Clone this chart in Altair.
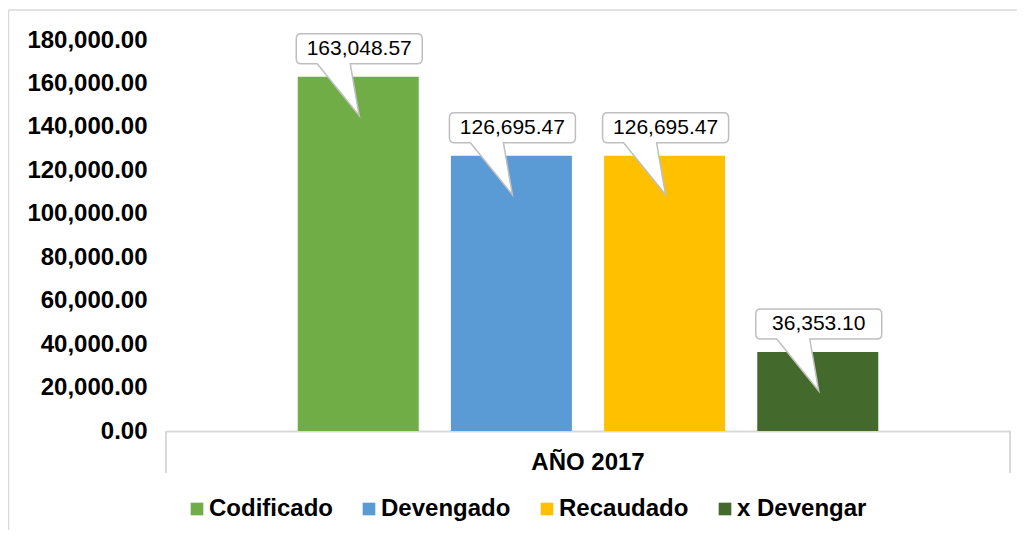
import altair as alt
import pandas as pd

# ---- data ----
categoria = ["AÑO 2017"]
series = ["Codificado", "Devengado", "Recaudado", "x Devengar"]
valores = [163048.57, 126695.47, 126695.47, 36353.10]
colores = ["#70AD47", "#5B9BD5", "#FFC000", "#44692C"]
y_ticks = [0, 20000, 40000, 60000, 80000, 100000, 120000, 140000, 160000, 180000]

df = pd.DataFrame({"anio": categoria * len(series), "serie": series, "valor": valores})

FONT = "Liberation Sans"
PW, PH = 844, 391
GRAY = "#D9D9D9"

# callout shape (rounded box + pointer), pixel units around bar centre/top
CALLOUT = ("M -57 -43 L 59 -43 Q 64 -43 64 -38 L 64 -18 Q 64 -13 59 -13 "
           "L -8 -13 L 1 39 L -41 -13 L -57 -13 Q -62 -13 -62 -18 "
           "L -62 -38 Q -62 -43 -57 -43 Z")

x_enc = alt.X("anio:N", title=None,
              scale=alt.Scale(paddingInner=0, paddingOuter=0),
              axis=alt.Axis(labelAngle=0, labelFont=FONT, labelFontSize=24,
                            labelFontWeight="bold", labelColor="#000000",
                            labelPadding=19, ticks=False, domainColor=GRAY,
                            domainWidth=2))
xo_enc = alt.XOffset("serie:N", sort=series,
                     scale=alt.Scale(paddingInner=0.21, paddingOuter=0.86))
y_enc = alt.Y("valor:Q", title=None,
              scale=alt.Scale(domain=[0, 180000], nice=False),
              axis=alt.Axis(values=y_ticks, format=",.2f", grid=False,
                            domain=False, ticks=False, labelFont=FONT,
                            labelFontSize=24, labelFontWeight="bold",
                            labelColor="#000000", labelPadding=19))

base = alt.Chart(df)

bars = base.mark_bar().encode(
    x=x_enc, xOffset=xo_enc, y=y_enc,
    color=alt.Color("serie:N", sort=series,
                    scale=alt.Scale(domain=series, range=colores),
                    legend=alt.Legend(title=None, orient="none", legendX=19,
                                      legendY=457, direction="horizontal",
                                      symbolType="square", symbolSize=160,
                                      symbolStrokeWidth=0, labelFont=FONT,
                                      labelFontSize=24, labelFontWeight="bold",
                                      labelColor="#000000", labelOffset=0,
                                      columnPadding=24, labelLimit=300,
                                      padding=0)),
)

callouts = base.mark_point(shape=CALLOUT, size=4, filled=True, fill="#FFFFFF",
                           stroke="#BFBFBF", strokeWidth=1.5, opacity=1).encode(
    x=alt.X("anio:N"), xOffset=alt.XOffset("serie:N", sort=series), y=alt.Y("valor:Q"))

labels = base.mark_text(font=FONT, fontSize=21, color="#000000", align="center",
                        baseline="middle", yOffset=-28, dx=1).encode(
    x=alt.X("anio:N"), xOffset=alt.XOffset("serie:N", sort=series), y=alt.Y("valor:Q"),
    text=alt.Text("valor:Q", format=",.2f"))

one = alt.Data(values=[{"k": 1}])
left_tick = alt.Chart(one).mark_rule(color=GRAY, strokeWidth=2).encode(
    x=alt.value(0), y=alt.value(PH), y2=alt.value(PH + 42))
right_tick = alt.Chart(one).mark_rule(color=GRAY, strokeWidth=2).encode(
    x=alt.value(PW), y=alt.value(PH), y2=alt.value(PH + 42))
border_left = alt.Chart(one).mark_rule(color=GRAY, strokeWidth=1.5).encode(
    x=alt.value(-157.5), y=alt.value(-30), y2=alt.value(PH + 120))
border_top = alt.Chart(one).mark_rule(color=GRAY, strokeWidth=1.5).encode(
    x=alt.value(-157.5), x2=alt.value(PW + 40), y=alt.value(-30))

chart = alt.layer(
    border_left, border_top, bars, left_tick, right_tick, callouts, labels
).properties(
    width=PW, height=PH,
    autosize=alt.AutoSizeParams(type="none"),
    padding={"left": 158, "top": 32, "right": 7, "bottom": 99},
).configure_view(stroke=None)

chart.save("out.html", embed_options={"renderer": "svg", "actions": False})
